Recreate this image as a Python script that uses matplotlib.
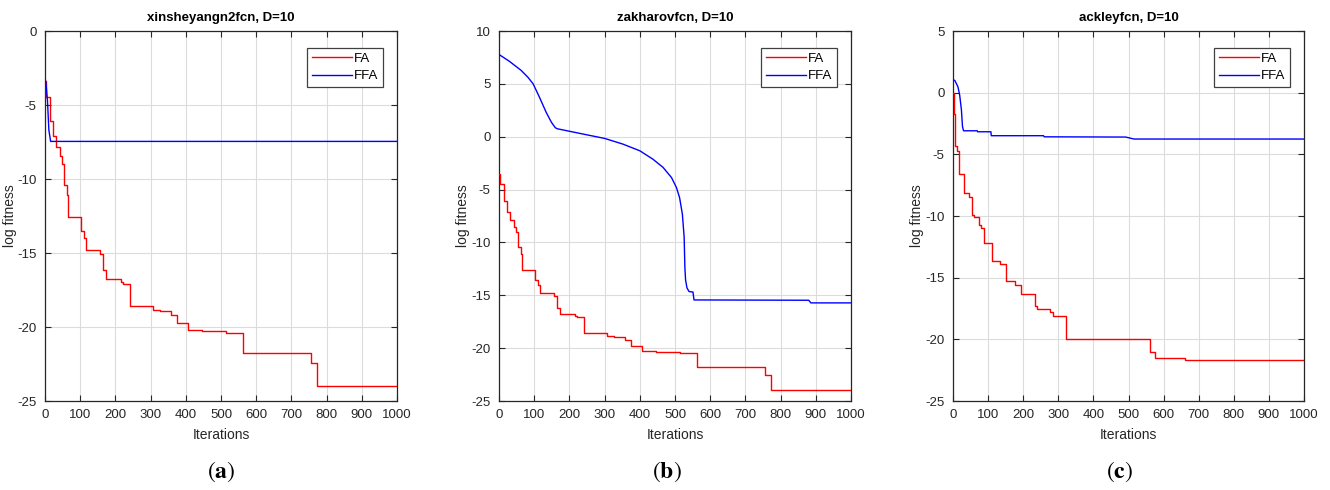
import matplotlib
matplotlib.use("Agg")
import matplotlib.pyplot as plt

plt.rcParams['font.family'] = ['Liberation Sans', 'DejaVu Sans']
plt.rcParams['mathtext.fontset'] = 'stix'
plt.rcParams['axes.unicode_minus'] = False

# ---------------- data ----------------
titles = ["xinsheyangn2fcn, D=10", "zakharovfcn, D=10", "ackleyfcn, D=10"]
captions = ["a", "b", "c"]
ylims = [(-25, 0), (-25, 10), (-25, 5)]

# FA (step curves): iteration where value changes, value
fa_a_it = [0, 2, 14, 24, 30, 42, 48, 53, 62, 65, 102, 110, 117, 156, 166, 173, 215, 221,
           241, 307, 326, 358, 376, 407, 447, 513, 563, 757, 774, 1000]
fa_a_val = [-3.4, -4.43, -6.07, -7.12, -7.87, -8.47, -8.99, -10.4, -11.1, -12.58, -13.5,
            -14.0, -14.8, -15.1, -16.17, -16.73, -16.98, -17.1, -18.58, -18.83, -18.9,
            -19.17, -19.75, -20.2, -20.3, -20.4, -21.73, -22.45, -24.0, -24.0]

fa_b_it = [0, 2, 14, 24, 30, 42, 48, 53, 62, 65, 102, 110, 117, 156, 166, 173, 215, 221,
           241, 307, 326, 358, 376, 407, 447, 513, 563, 757, 774, 1000]
fa_b_val = [-3.5, -4.5, -6.1, -7.15, -7.9, -8.5, -9.0, -10.4, -11.1, -12.6, -13.55,
            -14.05, -14.8, -15.1, -16.2, -16.75, -16.98, -17.1, -18.6, -18.85, -18.95,
            -19.2, -19.8, -20.25, -20.35, -20.45, -21.75, -22.5, -24.0, -24.0]

fa_c_it = [0, 2, 5, 11, 17, 30, 46, 54, 59, 74, 80, 88, 111, 135, 150, 176, 193, 235, 240,
           275, 285, 323, 562, 575, 662, 1000]
fa_c_val = [0.0, -1.7, -4.35, -4.7, -6.6, -8.1, -8.45, -9.95, -10.1, -10.7, -11.0, -12.2,
            -13.64, -13.86, -15.3, -15.6, -16.3, -17.3, -17.55, -17.77, -18.07, -19.95,
            -21.06, -21.5, -21.7, -21.7]

# FFA (line curves): points
ffa_a_it = [1, 3, 7, 11, 16, 1000]
ffa_a_val = [-3.3, -3.6, -4.7, -6.7, -7.46, -7.46]

ffa_b_it = [0, 30, 63, 82, 97, 115, 134, 149, 160, 166, 239, 300, 352, 400, 437, 466, 490,
            504, 513, 521, 526, 528, 530, 534, 540, 551, 554, 880, 886, 1000]
ffa_b_val = [7.78, 7.12, 6.27, 5.63, 5.0, 3.73, 2.31, 1.36, 0.85, 0.75, 0.25, -0.16, -0.7,
             -1.33, -2.12, -2.9, -3.86, -4.8, -5.76, -7.34, -9.5, -12.3, -13.55, -14.3,
             -14.65, -14.69, -15.44, -15.47, -15.72, -15.72]

ffa_c_it = [0, 5, 14, 19, 24, 27, 30, 69, 70, 108, 109, 258, 260, 492, 516, 1000]
ffa_c_val = [1.02, 1.0, 0.48, -0.19, -1.4, -2.74, -3.09, -3.09, -3.17, -3.17, -3.49, -3.49,
             -3.58, -3.6, -3.76, -3.76]

fa_data = [(fa_a_it, fa_a_val), (fa_b_it, fa_b_val), (fa_c_it, fa_c_val)]
ffa_data = [(ffa_a_it, ffa_a_val), (ffa_b_it, ffa_b_val), (ffa_c_it, ffa_c_val)]

# ---------------- figure ----------------
W, H = 1330, 490
fig = plt.figure(figsize=(W / 100, H / 100), dpi=100)

lefts = [45, 499, 953]
widths = [352, 352, 351]
ax_top, ax_bot = 31, 401
cap_x = [221, 667, 1120]
ylab_x = [17, 470, 924]

for i in range(3):
    ax = fig.add_axes([lefts[i] / W, (H - ax_bot) / H, widths[i] / W, (ax_bot - ax_top) / H])
    fx, fy = fa_data[i]
    bx, by = ffa_data[i]
    ax.plot(fx, fy, color='#ff0000', lw=1.0, drawstyle='steps-post', label='FA', zorder=3)
    ax.plot(bx, by, color='#0000ff', lw=1.0, label='FFA', zorder=3)
    ax.set_xlim(0, 1000)
    ax.set_ylim(*ylims[i])
    ax.set_xticks(range(0, 1001, 100))
    ax.set_yticks(range(ylims[i][0], ylims[i][1] + 1, 5))
    ax.grid(True, color='#dcdcdc', lw=0.8)
    ax.set_axisbelow(True)
    ax.tick_params(direction='in', top=True, right=True, length=4, width=0.8,
                   labelsize=9.5, colors='#262626', pad=6)
    for s in ax.spines.values():
        s.set_color('#262626')
        s.set_linewidth(0.9)
    ax.set_title(titles[i], fontsize=9.5, fontweight='bold', pad=7)
    ax.set_xlabel('Iterations', fontsize=10, color='#262626', labelpad=5)
    ax.set_ylabel('log fitness', fontsize=10, color='#262626')
    ax.yaxis.set_label_coords((ylab_x[i] - lefts[i]) / widths[i], 0.5)
    leg = ax.legend(loc='upper right', bbox_to_anchor=(0.972, 0.965), fontsize=9.5,
                    fancybox=False, framealpha=1, edgecolor='#404040',
                    handlelength=3.0, handletextpad=0.2, borderpad=0.35, labelspacing=0.4,
                    borderaxespad=0.3)
    leg.get_frame().set_linewidth(0.9)
    fig.text(cap_x[i] / W, 1 - 472 / H, r'$(\mathbf{' + captions[i] + r'})$',
             ha='center', va='center', fontsize=17)

fig.savefig('out.png', dpi=100)
